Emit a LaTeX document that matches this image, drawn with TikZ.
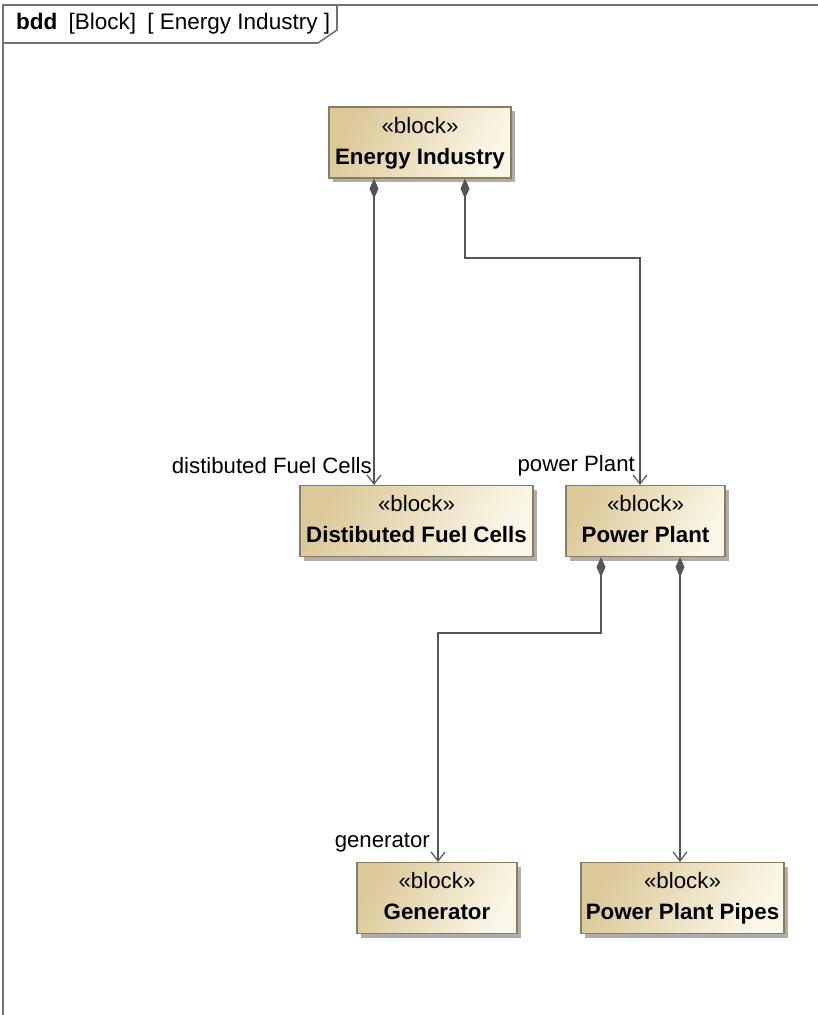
\documentclass[tikz,border=0pt]{standalone}
\usepackage{fontspec}
\setmainfont{Liberation Sans}
\usetikzlibrary{arrows.meta,shadows}
\definecolor{blkdark}{HTML}{DCC99A}
\definecolor{blklight}{HTML}{FBF7E8}
\definecolor{blkborder}{HTML}{8A7C5C}
\definecolor{linegray}{HTML}{555555}
\tikzset{
  blockbox/.style={draw=blkborder, line width=1.2pt, left color=blkdark, right color=blklight,
    shading angle=60, minimum height=71pt, inner sep=0pt, align=center,
    drop shadow={shadow xshift=4pt, shadow yshift=-4pt, fill=black!40, opacity=0.8},
    font=\fontsize{22.3}{31}\selectfont},
  comp/.style={draw=linegray, line width=1.6pt,
    {Diamond[length=20pt,width=9pt,fill=linegray]}-{Straight Barb[length=9pt,width=14pt,line width=1.2pt]}},
  rolelabel/.style={font=\fontsize{22.2}{26}\selectfont, inner sep=0pt},
  framebox/.style={draw=black!55, line width=1.6pt}
}
\begin{document}
\begin{tikzpicture}[x=1pt,y=-1pt]
\useasboundingbox (0,0) rectangle (817,1015);
% frame
\draw[framebox] (3,1020) -- (3,5) -- (822,5);
\draw[framebox] (3,43) -- (318,43) -- (337,30) -- (337,5);
\node[anchor=west, inner sep=0pt, font=\fontsize{22.5}{26}\selectfont] (title) at (16,24)
  {\textbf{bdd}\hspace{0.5em}[Block]\hspace{0.5em}[ Energy Industry ]};
% blocks
\node[blockbox, minimum width=182pt] (ei) at (420,142.5) {\strut«block»\\\strut\textbf{Energy Industry}};
\node[blockbox, minimum width=233pt] (dfc) at (416.5,521) {\strut«block»\\\strut\textbf{Distibuted Fuel Cells}};
\node[blockbox, minimum width=159pt] (pp) at (645.5,521) {\strut«block»\\\strut\textbf{Power Plant}};
\node[blockbox, minimum width=160pt] (gen) at (437,898) {\strut«block»\\\strut\textbf{Generator}};
\node[blockbox, minimum width=203pt] (ppp) at (682.5,898) {\strut«block»\\\strut\textbf{Power Plant Pipes}};
% connector anchors
\coordinate (c1) at (465,258);
\coordinate (c2) at (640,258);
\coordinate (c3) at (601,633);
\coordinate (c4) at (438,633);
\draw[comp] (ei.south -| 374,0) -- (dfc.north -| 374,0);
\draw[comp] (ei.south -| c1) -- (c1) -- (c2) -- (pp.north -| c2);
\draw[comp] (pp.south -| c3) -- (c3) -- (c4) -- (gen.north -| c4);
\draw[comp] (pp.south -| 680,0) -- (ppp.north -| 680,0);
% role labels
\node[rolelabel, anchor=east] (l1) at (372,466) {distibuted Fuel Cells};
\node[rolelabel, anchor=east] (l2) at (635,466) {power Plant};
\node[rolelabel, anchor=east] (l3) at (430,843) {generator};
\end{tikzpicture}
\end{document}
